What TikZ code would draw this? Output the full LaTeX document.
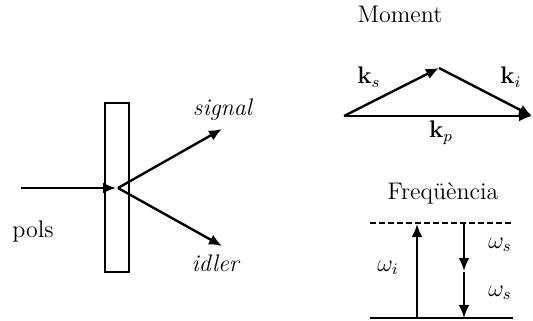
\documentclass[tikz,border=0pt]{standalone}
\usetikzlibrary{arrows.meta}
\begin{document}
\begin{tikzpicture}[x=0.5pt,y=-0.5pt,
  every node/.style={font=\fontsize{12}{14}\selectfont, inner sep=1pt},
  beam/.style={line width=1.2pt, -{Latex[length=6.5pt,width=5.5pt]}},
  plain/.style={line width=1.2pt}]
\useasboundingbox (0,0) rectangle (533,320);
% crystal
\node[draw, line width=0.9pt, minimum width=12pt, minimum height=84.5pt, inner sep=0pt] (crys) at (117,187.5) {};
\coordinate (pin) at (21,188);
\coordinate (pc) at (116,188);
\coordinate (pc2) at (118,188);
\coordinate (sig) at (222,129);
\coordinate (idl) at (222,246);
\draw[beam] (pin) -- (pc);
\draw[beam] (pc2) -- (sig);
\draw[beam] (pc2) -- (idl);
\node (lsig) at (223,110) {\textit{signal}};
\node (lidl) at (216,263) {\textit{idler}};
\node (lpols) at (33,231) {pols};
% momentum
\node (lmom) at (400,14) {Moment};
\coordinate (a) at (344,116);
\coordinate (b) at (439,68);
\coordinate (c) at (532,116);
\draw[beam] (a) -- (b);
\draw[beam] (b) -- (c);
\draw[beam] (a) -- (c);
\node (lks) at (369,77) {$\mathbf{k}_s$};
\node (lki) at (511,77) {$\mathbf{k}_i$};
\node (lkp) at (441,133) {$\mathbf{k}_p$};
% frequency
\node (lfreq) at (443,193) {Freqüència};
\coordinate (d1) at (370,223);
\coordinate (d2) at (513,223);
\coordinate (g1) at (370,318);
\coordinate (g2) at (513,318);
\draw[line width=0.9pt, dash pattern=on 3pt off 1.5pt] (d1) -- (d2);
\draw[plain, line width=1.4pt] (g1) -- (g2);
\coordinate (u1) at (417,318);
\coordinate (u2) at (417,224);
\draw[beam] (u1) -- (u2);
\coordinate (v1) at (464,223);
\coordinate (v2) at (464,271);
\coordinate (v3) at (464,272);
\coordinate (v4) at (464,318);
\draw[beam] (v1) -- (v2);
\draw[beam] (v3) -- (v4);
\node (lwi) at (388,268) {$\omega_i$};
\node (lws1) at (500,245) {$\omega_s$};
\node (lws2) at (500,293) {$\omega_s$};
\end{tikzpicture}
\end{document}
